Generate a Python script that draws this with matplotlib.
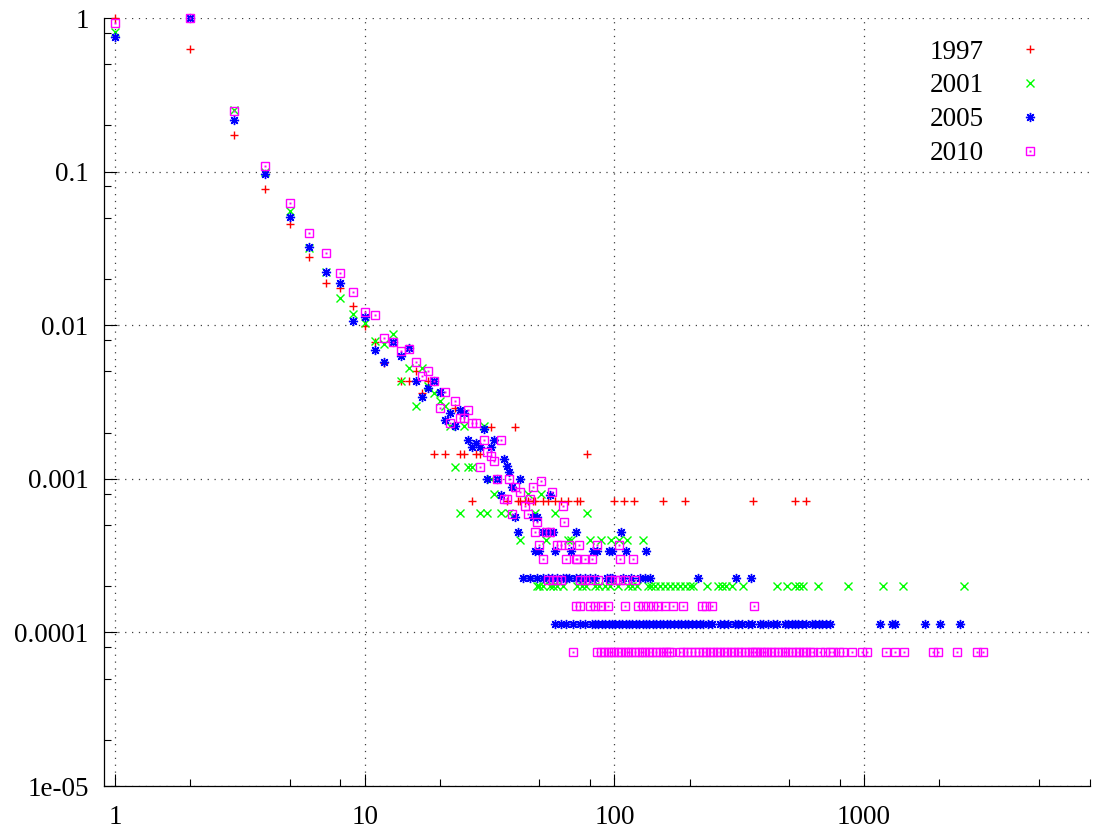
# %%
# Degree distribution, four snapshots (log-log scatter, gnuplot look)
import matplotlib.pyplot as plt
from matplotlib.ticker import FixedLocator, NullFormatter
from matplotlib.legend_handler import HandlerTuple

plt.rcParams['font.family'] = ['Liberation Serif', 'DejaVu Serif']

# %%
# 1997 - red +
x97 = [1, 2, 3, 4, 5, 6, 7, 8, 9, 10, 11, 12, 14, 15, 16, 17, 18, 19, 21, 23,
       24, 25, 27, 28, 29, 32, 40, 78]
y97 = [1.0, 0.63, 0.174, 0.0776, 0.0453, 0.0277, 0.0187, 0.0175, 0.0133, 0.0099,
       0.0078, 0.0057, 0.0043, 0.0043, 0.0050, 0.0036, 0.0043, 0.00144, 0.00144, 0.0029,
       0.00144, 0.00144, 0.00072, 0.00144, 0.00144, 0.00216, 0.00216, 0.00144]
lv97 = [0.00072]
tail97 = [[37, 41, 42, 44, 45, 47, 48, 52, 54, 58, 61, 65, 71, 73, 100, 109, 120,
           157, 192, 359, 529, 585]]

# 2001 - green x
x01 = [1, 2, 3, 4, 5, 6, 7, 8, 9, 10, 11, 12, 13, 14, 15, 16, 17, 18, 19, 20,
       21, 22, 23, 25, 26, 27, 30, 32, 33, 45, 51]
y01 = [0.81, 1.0, 0.252, 0.099, 0.0558, 0.032, 0.0222, 0.0150, 0.0118, 0.0104,
       0.0079, 0.0075, 0.0087, 0.0043, 0.0053, 0.0030, 0.0053, 0.0040, 0.0036, 0.0032,
       0.0030, 0.0022, 0.0012, 0.0022, 0.0012, 0.0012, 0.0022, 0.0010, 0.0008, 0.0008,
       0.0008]
lv01 = [0.0006, 0.0004, 0.0002]
tail01 = [[24, 29, 31, 35, 38, 48, 58, 78],
          [42, 53, 65, 67, 80, 88, 97, 104, 112, 130],
          [49, 50, 52, 55, 57, 59, 62, 71, 74, 77, 84, 87, 92, 96, 103, 113, 118, 123,
           136, 140, 145, 152, 160, 167, 175, 183, 192, 201, 207, 235, 260, 270, 280,
           297, 327, 448, 491, 529, 549, 570, 654, 862, 1190, 1432, 2512]]

# 2005 - blue *
x05 = [1, 2, 3, 4, 5, 6, 7, 8, 9, 10, 11, 12, 13, 14, 15, 16, 17, 18, 19, 20,
       21, 22, 23, 24, 25, 26, 27, 28, 29, 30, 31, 32, 33, 34, 35, 36, 37, 38, 39, 40,
       41, 42]
y05 = [0.75, 1.0, 0.218, 0.097, 0.051, 0.0321, 0.0221, 0.0187, 0.0106, 0.0113,
       0.0069, 0.0058, 0.0078, 0.0063, 0.0071, 0.0043, 0.0034, 0.0039, 0.0043, 0.0037,
       0.0024, 0.0027, 0.0022, 0.0028, 0.0027, 0.0018, 0.0016, 0.0017, 0.0016, 0.0021,
       0.0010, 0.0016, 0.0018, 0.0010, 0.00079, 0.00135, 0.00122, 0.0011, 0.00088, 0.00056,
       0.00045, 0.0010]
lv05 = [0.00079, 0.00056, 0.00045, 0.00034, 0.000225, 0.000113]
tail05 = [[55],
          [47, 49],
          [52, 54, 57, 70, 106],
          [48, 50, 58, 67, 82, 85, 95, 98, 111, 134],
          [43, 46, 49, 52, 54, 56, 59, 62, 64, 66, 70, 73, 76, 80, 84, 93, 96, 98, 108,
           117, 127, 133, 139, 216, 306, 352],
          [58, 61, 64, 68, 73, 76, 81, 84, 86, 89, 92, 95, 98, 101, 104, 107, 111, 114,
           118, 122, 126, 130, 134, 138, 143, 147, 152, 157, 162, 167, 173, 179, 185,
           191, 198, 205, 212, 220, 226, 237, 246, 265, 275, 286, 304, 313, 324, 343,
           356, 383, 394, 412, 432, 449, 482, 496, 514, 529, 544, 565, 586, 620, 637,
           661, 679, 705, 732, 1160, 1290, 1330, 1750, 2010, 2420]]

# 2010 - magenta boxes
x10 = [1, 2, 3, 4, 5, 6, 7, 8, 9, 10, 11, 12, 13, 14, 15, 16, 17, 18, 19, 20,
       21, 22, 23, 24, 25, 26, 27, 28, 29, 30, 31, 32, 33, 34, 35, 36, 37, 38]
y10 = [0.93, 1.0, 0.249, 0.108, 0.062, 0.0396, 0.0294, 0.0218, 0.0164, 0.0121,
       0.0116, 0.0083, 0.0078, 0.0068, 0.0070, 0.0058, 0.0047, 0.0050, 0.0043, 0.0029,
       0.0037, 0.0023, 0.0032, 0.0025, 0.0025, 0.0028, 0.0023, 0.0023, 0.0012, 0.0018,
       0.0015, 0.0014, 0.0013, 0.0010, 0.0018, 0.00074, 0.00074, 0.0010]
lv10 = [0.00097, 0.00089, 0.00082, 0.00074, 0.00067, 0.00059, 0.00052, 0.00045,
        0.00037, 0.0003, 0.00022, 0.000148, 0.000074]
tail10 = [[51],
          [40, 47],
          [42, 56],
          [46],
          [44, 62],
          [39, 45],
          [49, 63],
          [48, 53, 55],
          [50, 59, 61, 66, 72, 85, 104],
          [52, 64, 70, 71, 76, 81, 105, 119],
          [54, 57, 59, 61, 73, 76, 80, 86, 96, 101, 105, 110, 121],
          [70, 73, 80, 84, 88, 94, 110, 124, 130, 136, 143, 149, 160, 171, 188, 225,
           233, 245, 364],
          [68, 85, 88, 91, 94, 97, 100, 103, 106, 110, 113, 117, 121, 125, 129, 133,
           138, 142, 147, 152, 157, 161, 165, 169, 183, 189, 195, 202, 210, 218, 226,
           233, 241, 249, 257, 265, 274, 283, 292, 302, 312, 322, 333, 345, 356, 366,
           372, 385, 397, 410, 423, 437, 452, 467, 482, 498, 515, 532, 549, 567, 586,
           606, 626, 666, 700, 730, 752, 790, 826, 894, 981, 1028, 1220, 1330, 1450,
           1880, 1975, 2360, 2840, 3000]]

labels = ['1997', '2001', '2005', '2010']


# %%
def with_tail(xh, yh, levels, tails):
    xs, ys = list(xh), list(yh)
    for lv, tx in zip(levels, tails):
        xs += tx
        ys += [lv] * len(tx)
    return xs, ys


d97 = with_tail(x97, y97, lv97, tail97)
d01 = with_tail(x01, y01, lv01, tail01)
d05 = with_tail(x05, y05, lv05, tail05)
d10 = with_tail(x10, y10, lv10, tail10)

# %%
fig = plt.figure(figsize=(10.93, 8.34), dpi=100)
ax = fig.add_axes([104 / 1093, 1 - 786 / 834, 986 / 1093, 768 / 834])
ax.set_xscale('log')
ax.set_yscale('log')

kw = dict(linestyle='none', clip_on=False, zorder=3)
h97, = ax.plot(*d97, marker='+', ms=6.4, mew=1.0, color='#ff0000', **kw)
h01, = ax.plot(*d01, marker='x', ms=5.4, mew=1.0, color='#00ff00', **kw)
h05, = ax.plot(*d05, marker=(8, 2, 0), ms=6.6, mew=1.0, color='#0000ff', **kw)
h10, = ax.plot(*d10, marker='s', ms=6.0, mew=1.0, mfc='none', color='#ff00ff', **kw)
h10d, = ax.plot(*d10, marker='s', ms=1.4, mew=0, color='#ff00ff', **kw)

ax.set_xlim(0.9036, 8030)
ax.set_ylim(1e-5, 1.0)

ax.set_xticks([1, 10, 100, 1000], ['1', '10', '100', '1000'])
ax.xaxis.set_minor_locator(FixedLocator([2, 5, 8, 20, 50, 80, 200, 500, 800,
                                         2000, 5000, 8000]))
ax.xaxis.set_minor_formatter(NullFormatter())
ax.set_yticks([1e-5, 1e-4, 1e-3, 1e-2, 1e-1, 1],
              ['1e-05', '0.0001', '0.001', '0.01', '0.1', '1'])
ax.yaxis.set_minor_locator(FixedLocator([2e-5, 5e-5, 8e-5, 2e-4, 5e-4, 8e-4,
                                         2e-3, 5e-3, 8e-3, 0.02, 0.05, 0.08,
                                         0.2, 0.5, 0.8]))
ax.yaxis.set_minor_formatter(NullFormatter())

ax.tick_params(which='both', direction='in', top=False, right=False,
               width=0.8, colors='black', labelsize=19.5)
ax.tick_params(which='major', length=9)
ax.tick_params(which='minor', length=5)
ax.tick_params(axis='x', pad=14)
ax.tick_params(axis='y', pad=11)

for s in ['top', 'right']:
    ax.spines[s].set_visible(False)
for s in ['left', 'bottom']:
    ax.spines[s].set_linewidth(0.9)

ax.grid(True, which='major', linestyle=(0, (1, 4.5)), color='0.25', lw=0.9)
ax.set_axisbelow(True)

ax.legend([h97, h01, h05, (h10, h10d)], labels,
          handler_map={tuple: HandlerTuple(ndivide=1, pad=0)},
          markerfirst=False, frameon=False, loc='upper right',
          bbox_to_anchor=(0.9528, 0.972), borderaxespad=0, borderpad=0,
          handlelength=1.0, handletextpad=1.2, labelspacing=0.33, fontsize=19.5)

plt.savefig('out.png', dpi=100)
# plt.show()
